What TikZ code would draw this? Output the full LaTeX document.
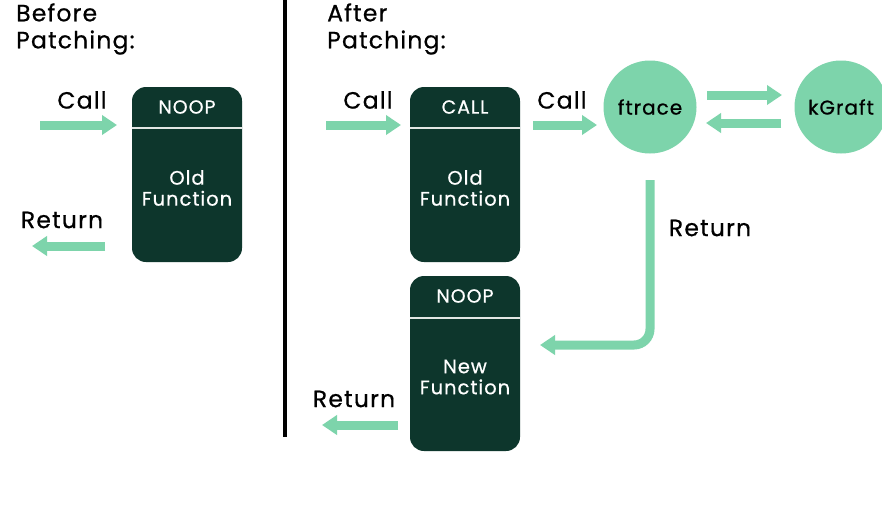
\documentclass[tikz,border=0pt]{standalone}
\usepackage{fontspec}
\setmainfont{Poppins}[LetterSpace=5, FakeBold=0.6]
\usetikzlibrary{arrows.meta}
\definecolor{dk}{HTML}{0D362C}
\definecolor{lg}{HTML}{7DD4AB}
\definecolor{sep}{HTML}{E2E6E4}
\begin{document}
\begin{tikzpicture}[x=1pt,y=-1pt,
  fbox/.style={fill=dk, rounded corners=14pt, minimum width=110pt, minimum height=175pt, inner sep=0pt},
  flow/.style={draw=lg, line width=9pt, -{Triangle[length=15pt,width=19pt]}},
  lbl/.style={font=\fontsize{23.5}{27}\selectfont, text=black, inner sep=0pt},
  hdr/.style={text=white, font=\fontsize{19}{20}\selectfont, inner sep=0pt},
  intxt/.style={text=white, font=\fontsize{19.5}{21}\selectfont, align=center, inner sep=0pt},
  circ/.style={circle, fill=lg, minimum size=93pt, inner sep=0pt, font=\fontsize{20}{20}\selectfont},
  divl/.style={draw=sep, line width=2pt}]
\useasboundingbox (0,0) rectangle (882,507);
\clip (0,0) rectangle (882,507);
\fill[white] (0,0) rectangle (882,507);

% headings
\node[lbl, align=left, anchor=west] (hb) at (16,29) {Before\\Patching:};
\node[lbl, align=left, anchor=west] (ha) at (327,29) {After\\Patching:};

% vertical separator
\coordinate (vt) at (285,0);
\coordinate (vb) at (285,437);
\draw[line width=4pt] (vt) -- (vb);

% before boxes
\node[fbox] (b1) at (187,174.5) {};
\draw[divl] (b1.north west) ++(0,41) -- ++(110,0);
\node[hdr] (b1h) at (187,107) {NOOP};
\node[intxt] (b1t) at (187,188) {Old\\Function};

% after boxes
\node[fbox] (b2) at (465,174.5) {};
\draw[divl] (b2.north west) ++(0,41) -- ++(110,0);
\node[hdr] (b2h) at (465,107) {CALL};
\node[intxt] (b2t) at (465,188) {Old\\Function};

\node[fbox] (b3) at (465,363.5) {};
\draw[divl] (b3.north west) ++(0,42) -- ++(110,0);
\node[hdr] (b3h) at (465,296) {NOOP};
\node[intxt] (b3t) at (465,377) {New\\Function};

% circles
\node[circ] (ft) at (650,107) {ftrace};
\node[circ] (kg) at (841,107) {kGraft};

% labels
\node[lbl] (l1) at (82,100) {Call};
\node[lbl] (l2) at (62,220) {Return};
\node[lbl] (l3) at (368,100) {Call};
\node[lbl] (l4) at (562,100) {Call};
\node[lbl] (l5) at (710,228) {Return};
\node[lbl] (l6) at (354,399) {Return};

% arrows
\coordinate (a1s) at (40,125);  \coordinate (a1e) at (117,125);
\draw[flow] (a1s) -- (a1e);
\coordinate (a2s) at (105,246); \coordinate (a2e) at (32,246);
\draw[flow] (a2s) -- (a2e);
\coordinate (a3s) at (326,125); \coordinate (a3e) at (401,125);
\draw[flow] (a3s) -- (a3e);
\coordinate (a4s) at (533,125); \coordinate (a4e) at (597,125);
\draw[flow] (a4s) -- (a4e);
\coordinate (a5s) at (707,95);  \coordinate (a5e) at (782,95);
\draw[flow] (a5s) -- (a5e);
\coordinate (a6s) at (781,123); \coordinate (a6e) at (706,123);
\draw[flow] (a6s) -- (a6e);
\coordinate (a7s) at (650,180); \coordinate (a7c) at (650,345); \coordinate (a7e) at (540,345);
\draw[flow, rounded corners=16pt] (a7s) -- (a7c) -- (a7e);
\coordinate (a8s) at (398,425); \coordinate (a8e) at (322,425);
\draw[flow] (a8s) -- (a8e);
\end{tikzpicture}
\end{document}
